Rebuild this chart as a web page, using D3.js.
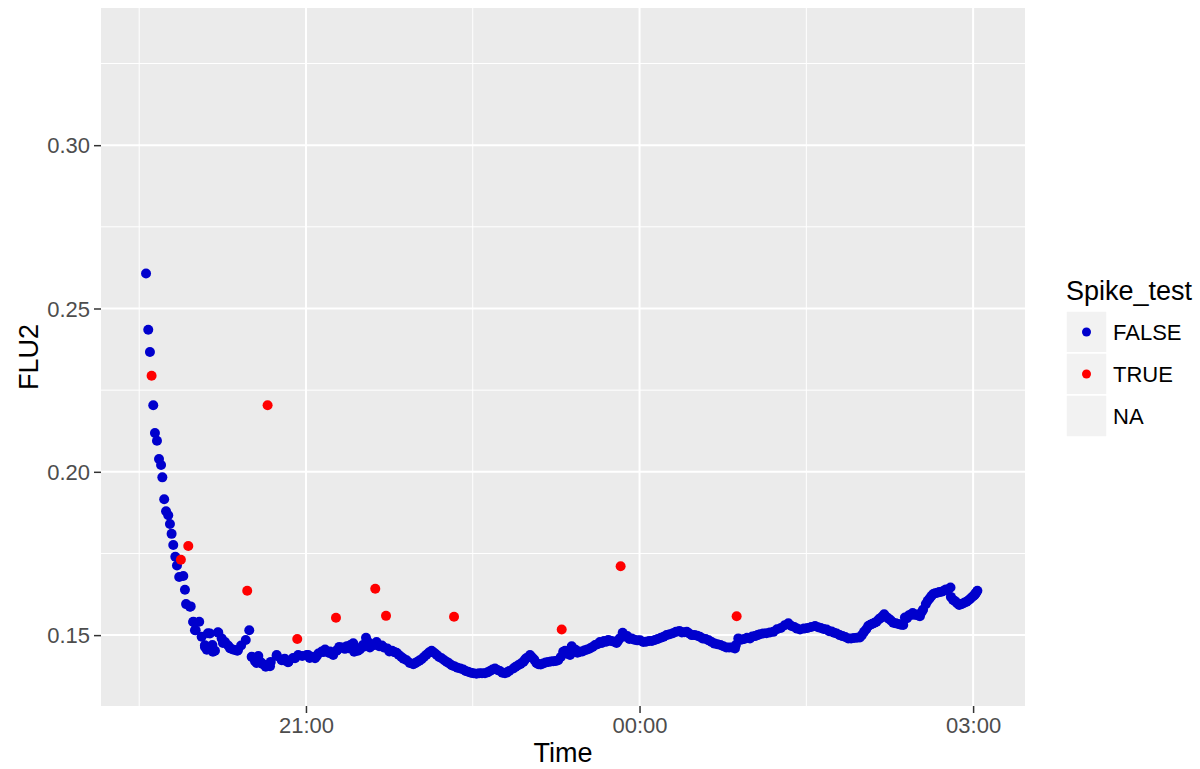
<!DOCTYPE html>
<html>
<head>
<meta charset="utf-8">
<script src="https://cdn.jsdelivr.net/npm/d3@7"></script>
<style>
  html, body { margin: 0; padding: 0; background: #ffffff; }
  svg { display: block; font-family: "Liberation Sans", Arial, sans-serif; }
</style>
</head>
<body>
<svg id="chart" width="1200" height="769"></svg>
<script>
// ---- Data ----
const falseTimes = [
  "19:33:42","19:34:54","19:35:48","19:37:36","19:38:30","19:39:36","19:40:42","19:41:48","19:42:30","19:43:30",
  "19:44:30","19:45:42","19:46:36","19:47:30","19:48:24","19:49:30","19:50:24","19:51:36","19:53:48","19:54:42",
  "19:55:18","19:57:48","19:59:12","20:00:30","20:02:24","20:03:42","20:05:30","20:06:30","20:08:12","20:09:30",
  "20:10:54","20:12:42","20:14:30","20:16:18","20:18:00","20:19:24","20:21:00","20:22:54","20:25:00","20:27:30",
  "20:29:24","20:31:00","20:32:30","20:33:24","20:34:18","20:36:30","20:38:18","20:41:00","20:44:12","20:46:54",
  "20:48:30","20:50:30","20:53:00","20:55:48","20:58:00","21:00:24","21:01:12","21:03:00","21:04:54","21:06:42",
  "21:08:30","21:10:18","21:12:30","21:14:42","21:16:30","21:18:00","21:20:00","21:22:00","21:24:00","21:25:30",
  "21:26:00","21:27:30","21:29:06","21:30:45","21:32:24","21:34:30","21:36:15","21:38:06","21:41:00","21:43:54",
  "21:46:30","21:48:54","21:51:30","21:54:18","21:57:54","22:00:00","22:02:24","22:05:00","22:07:48","22:10:30",
  "22:13:12","22:16:00","22:18:36","22:21:45","22:24:54","22:27:30","22:30:18","22:33:30","22:36:36","22:39:20",
  "22:42:00","22:44:40","22:47:24","22:49:40","22:51:54","22:54:30","22:57:18","22:59:00","23:00:54","23:03:10",
  "23:05:24","23:08:00","23:10:48","23:13:30","23:16:06","23:18:48","23:21:00","23:22:30","23:23:24","23:25:30",
  "23:27:48","23:30:30","23:33:12","23:36:00","23:38:36","23:40:50","23:43:06","23:45:20","23:47:36","23:49:20",
  "23:50:54","23:53:20","23:55:42","23:58:50","00:02:00","00:05:10","00:08:18","00:11:30","00:14:36","00:18:00",
  "00:21:30","00:24:10","00:26:48","00:29:40","00:32:36","00:35:40","00:38:54","00:42:00","00:45:12","00:48:20",
  "00:51:30","00:53:18","00:56:30","00:59:36","01:02:20","01:05:00","01:08:30","01:12:12","01:16:15","01:20:18",
  "01:23:30","01:26:36","01:30:40","01:34:42","01:37:50","01:41:00","01:43:40","01:46:24","01:49:30","01:52:36",
  "01:55:45","01:58:54","02:01:10","02:03:24","02:05:40","02:07:54","02:10:00","02:12:00","02:14:30","02:16:54",
  "02:19:40","02:22:18","02:23:12","02:25:20","02:27:24","02:29:20","02:31:18","02:33:00","02:34:30","02:36:30",
  "02:38:30","02:40:45","02:43:00","02:45:20","02:47:48","02:48:00","02:50:15","02:52:30","02:54:30","02:56:30",
  "02:58:15","03:00:00","03:01:10","03:02:18",
  // additional readings of the band
  "20:07:06","20:12:30","20:15:12","20:19:00","20:23:18","20:05:30","20:09:48","20:00:06","19:57:24","19:59:12",
  "20:30:42","20:34:06","20:37:54","20:44:12","20:47:48","20:54:06","20:35:42","20:40:36","20:50:18",
  "21:02:00","21:05:50","21:09:20","21:13:00","21:17:00","21:21:00","21:23:00","21:28:00","21:31:30","21:33:20",
  "21:37:00","21:39:30","21:42:00","21:45:00","21:47:40","21:50:00","21:52:40","21:56:00","21:59:00","22:01:10",
  "22:03:40","22:06:20","22:09:10","22:11:50","22:14:40","22:17:20","22:20:00","22:23:20","22:26:10","22:29:00",
  "22:32:00","22:35:00","22:38:00","22:40:40","22:43:20","22:46:00","22:48:30","22:53:10","22:55:50","22:58:10",
  "23:02:00","23:04:20","23:06:40","23:09:20","23:12:10","23:14:50","23:17:30","23:19:50","23:24:30","23:26:30",
  "23:29:10","23:31:50","23:34:40","23:37:20","23:39:40","23:42:00","23:44:10","23:46:30","23:48:20","23:52:00",
  "23:54:30","23:57:10","00:00:20","00:03:30","00:06:40","00:09:50","00:13:00","00:16:20","00:19:40","00:22:50",
  "00:25:30","00:28:10","00:31:10","00:34:00","00:37:20","00:40:30","00:43:40","00:46:50","00:49:50","00:52:00",
  "00:54:50","00:58:00","01:00:50","01:03:40","01:06:40","01:10:20","01:14:10","01:18:20","01:22:00","01:25:00",
  "01:28:40","01:32:40","01:36:20","01:39:20","01:42:20","01:45:00","01:48:00","01:51:00","01:54:10","01:57:20",
  "02:00:00","02:02:20","02:04:30","02:06:50","02:09:00","02:11:00","02:13:20","02:15:40","02:18:20","02:21:00",
  "02:24:20","02:26:20","02:28:20","02:30:20","02:32:10","02:35:30","02:37:30","02:39:30","02:41:50","02:44:10",
  "02:46:30","02:49:10","02:51:20","02:53:30","02:55:30","02:57:20","02:59:10","03:00:40","03:01:40"
];
const falseValues = [
  0.2607,0.2435,0.2367,0.2204,0.2119,0.2095,0.2039,0.2021,0.1983,0.1916,
  0.1879,0.1867,0.1840,0.1810,0.1776,0.1740,0.1713,0.1678,0.1681,0.1639,
  0.1595,0.1588,0.1540,0.1515,0.1541,0.1495,0.1469,0.1455,0.1505,0.1470,
  0.1452,0.1507,0.1490,0.1479,0.1468,0.1459,0.1455,0.1452,0.1468,0.1485,
  0.1515,0.1432,0.1420,0.1415,0.1436,0.1412,0.1403,0.1418,0.1436,0.1423,
  0.1428,0.1418,0.1430,0.1439,0.1436,0.1439,0.1439,0.1434,0.1429,0.1444,
  0.1450,0.1456,0.1445,0.1439,0.1452,0.1464,0.1462,0.1466,0.1470,0.1475,
  0.1449,0.1460,0.1456,0.1470,0.1492,0.1462,0.1472,0.1479,0.1468,0.1459,
  0.1452,0.1446,0.1433,0.1423,0.1411,0.1418,0.1426,0.1440,0.1452,0.1440,
  0.1429,0.1418,0.1408,0.1400,0.1395,0.1388,0.1383,0.1383,0.1383,0.1390,
  0.1398,0.1390,0.1383,0.1390,0.1398,0.1408,0.1418,0.1430,0.1439,0.1425,
  0.1411,0.1413,0.1418,0.1420,0.1423,0.1449,0.1443,0.1439,0.1466,0.1455,
  0.1449,0.1454,0.1459,0.1470,0.1479,0.1482,0.1485,0.1481,0.1476,0.1490,
  0.1507,0.1497,0.1490,0.1484,0.1479,0.1482,0.1485,0.1492,0.1500,0.1506,
  0.1513,0.1509,0.1505,0.1500,0.1495,0.1488,0.1479,0.1472,0.1466,0.1462,
  0.1459,0.1490,0.1488,0.1490,0.1497,0.1503,0.1506,0.1510,0.1522,0.1536,
  0.1525,0.1517,0.1522,0.1528,0.1522,0.1517,0.1511,0.1505,0.1497,0.1490,
  0.1491,0.1493,0.1510,0.1528,0.1535,0.1541,0.1552,0.1564,0.1550,0.1538,
  0.1534,0.1531,0.1554,0.1561,0.1568,0.1563,0.1558,0.1578,0.1595,0.1612,
  0.1626,0.1630,0.1633,0.1640,0.1646,0.1617,0.1604,0.1592,0.1597,0.1602,
  0.1610,0.1619,0.1627,0.1636,
  // additional readings of the band
  0.1506,0.1509,0.1476,0.1460,0.1454,0.1464,0.1449,0.1515,0.1587,0.1541,
  0.1434,0.1430,0.1408,0.1439,0.1423,0.1429,0.1417,0.1405,0.1417,
  0.1430,0.1436,0.1448,0.1450,0.1455,0.1458,0.1460,0.1452,0.1465,0.1480,
  0.1470,0.1466,0.1462,0.1450,0.1448,0.1440,0.1428,0.1415,0.1414,0.1422,
  0.1433,0.1447,0.1446,0.1433,0.1423,0.1413,0.1405,0.1398,0.1390,0.1385,
  0.1382,0.1383,0.1386,0.1395,0.1393,0.1385,0.1386,0.1403,0.1412,0.1425,
  0.1432,0.1415,0.1410,0.1416,0.1419,0.1421,0.1433,0.1452,0.1452,0.1446,
  0.1450,0.1456,0.1464,0.1472,0.1476,0.1480,0.1483,0.1480,0.1482,0.1496,
  0.1488,0.1486,0.1484,0.1480,0.1482,0.1488,0.1495,0.1503,0.1510,0.1508,
  0.1510,0.1500,0.1498,0.1490,0.1484,0.1474,0.1470,0.1462,0.1462,0.1470,
  0.1486,0.1492,0.1496,0.1500,0.1505,0.1508,0.1518,0.1530,0.1528,0.1520,
  0.1520,0.1525,0.1524,0.1519,0.1512,0.1507,0.1500,0.1494,0.1490,0.1492,
  0.1500,0.1518,0.1532,0.1538,0.1548,0.1557,0.1555,0.1545,0.1536,0.1532,
  0.1552,0.1562,0.1562,0.1560,0.1570,0.1605,0.1620,0.1628,0.1632,0.1636,
  0.1640,0.1608,0.1598,0.1595,0.1600,0.1606,0.1615,0.1622,0.1630
];
const trueTimes = [
  "19:36:42","19:52:30","19:56:30","20:28:18","20:39:18","20:55:18",
  "21:16:12","21:37:24","21:43:12","22:19:54","23:18:00","23:49:48","00:52:24"
];
const trueValues = [
  0.2294,0.1731,0.1773,0.1636,0.2204,0.1488,
  0.1553,0.1642,0.1559,0.1556,0.1517,0.1711,0.1558
];
const xTickLabels = ["21:00","00:00","03:00"];
const xMinorLabels = ["19:30","22:30","01:30"];
const yTicks = [0.15, 0.20, 0.25, 0.30];
const yMinor = [0.175, 0.225, 0.275, 0.325];
const legendTitle = "Spike_test";
const legendLabels = ["FALSE","TRUE","NA"];
const xDomainLabels = ["19:09:24","03:28:00"];
const yDomain = [0.1283, 0.342];

// ---- Helpers ----
function parseT(s) {
  const p = s.split(":").map(Number);
  const day = p[0] >= 12 ? 1 : 2;
  return new Date(2016, 0, day, p[0], p[1], p[2] || 0);
}

const svg = d3.select("#chart");
const panel = { left: 101, right: 1025, top: 8, bottom: 706 };
const x = d3.scaleTime().domain(xDomainLabels.map(parseT)).range([panel.left, panel.right]);
const y = d3.scaleLinear().domain(yDomain).range([panel.bottom, panel.top]);

const blue = "#0000CD", red = "#FF0000";

// panel background
svg.append("rect").attr("x", panel.left).attr("y", panel.top)
  .attr("width", panel.right - panel.left).attr("height", panel.bottom - panel.top)
  .attr("fill", "#EBEBEB");

const grid = svg.append("g");
grid.selectAll(".ymin").data(yMinor).enter().append("line")
  .attr("x1", panel.left).attr("x2", panel.right)
  .attr("y1", d => y(d)).attr("y2", d => y(d))
  .attr("stroke", "#fff").attr("stroke-width", 1);
grid.selectAll(".xmin").data(xMinorLabels.map(parseT)).enter().append("line")
  .attr("y1", panel.top).attr("y2", panel.bottom)
  .attr("x1", d => x(d)).attr("x2", d => x(d))
  .attr("stroke", "#fff").attr("stroke-width", 1);
grid.selectAll(".ymaj").data(yTicks).enter().append("line")
  .attr("x1", panel.left).attr("x2", panel.right)
  .attr("y1", d => y(d)).attr("y2", d => y(d))
  .attr("stroke", "#fff").attr("stroke-width", 2);
grid.selectAll(".xmaj").data(xTickLabels.map(parseT)).enter().append("line")
  .attr("y1", panel.top).attr("y2", panel.bottom)
  .attr("x1", d => x(d)).attr("x2", d => x(d))
  .attr("stroke", "#fff").attr("stroke-width", 2);

// axes
const xAxis = d3.axisBottom(x).tickValues(xTickLabels.map(parseT))
  .tickFormat(d3.timeFormat("%H:%M")).tickSize(7).tickPadding(4);
const gx = svg.append("g").attr("transform", `translate(0,${panel.bottom})`).call(xAxis);
const yAxis = d3.axisLeft(y).tickValues(yTicks).tickFormat(d3.format(".2f")).tickSize(7).tickPadding(4);
const gy = svg.append("g").attr("transform", `translate(${panel.left},0)`).call(yAxis);
[gx, gy].forEach(g => {
  g.select(".domain").remove();
  g.selectAll(".tick line").attr("stroke", "#333333").attr("stroke-width", 1.5);
  g.selectAll(".tick text").attr("fill", "#4D4D4D")
    .style("font-size", "22px").style("font-family", "'Liberation Sans', Arial, sans-serif");
});
gy.selectAll(".tick text").attr("dy", "0.35em");

// points
const falseData = falseTimes.map((t, i) => ({ t: parseT(t), v: falseValues[i] }));
const trueData = trueTimes.map((t, i) => ({ t: parseT(t), v: trueValues[i] }));
const allData = falseData.map(d => ({ ...d, c: blue }))
  .concat(trueData.map(d => ({ ...d, c: red })))
  .sort((a, b) => a.t - b.t);
svg.append("g").selectAll("circle").data(allData).enter().append("circle")
  .attr("cx", d => x(d.t)).attr("cy", d => y(d.v)).attr("r", 5)
  .attr("fill", d => d.c);

// axis titles
svg.append("text").attr("x", (panel.left + panel.right) / 2).attr("y", 762)
  .attr("text-anchor", "middle").style("font-size", "27px").attr("fill", "#000").text("Time");
svg.append("text").attr("transform", `translate(38,${(panel.top + panel.bottom) / 2}) rotate(-90)`)
  .attr("text-anchor", "middle").style("font-size", "27px").attr("fill", "#000").text("FLU2");

// legend
const lg = svg.append("g").attr("transform", "translate(1066,0)");
lg.append("text").attr("x", 0).attr("y", 300).style("font-size", "27px").attr("fill", "#000").text(legendTitle);
const keyColors = [blue, red, null];
const keyH = 42;
legendLabels.forEach((lab, i) => {
  const ky = 311 + i * keyH;
  lg.append("rect").attr("x", 0).attr("y", ky).attr("width", 41).attr("height", keyH)
    .attr("fill", "#F2F2F2").attr("stroke", "#fff").attr("stroke-width", 1.5);
  if (keyColors[i]) {
    lg.append("circle").attr("cx", 20.5).attr("cy", ky + keyH / 2).attr("r", 4.5).attr("fill", keyColors[i]);
  }
  lg.append("text").attr("x", 47).attr("y", ky + keyH / 2 + 8).style("font-size", "22px")
    .attr("fill", "#000").text(lab);
});
</script>
</body>
</html>
